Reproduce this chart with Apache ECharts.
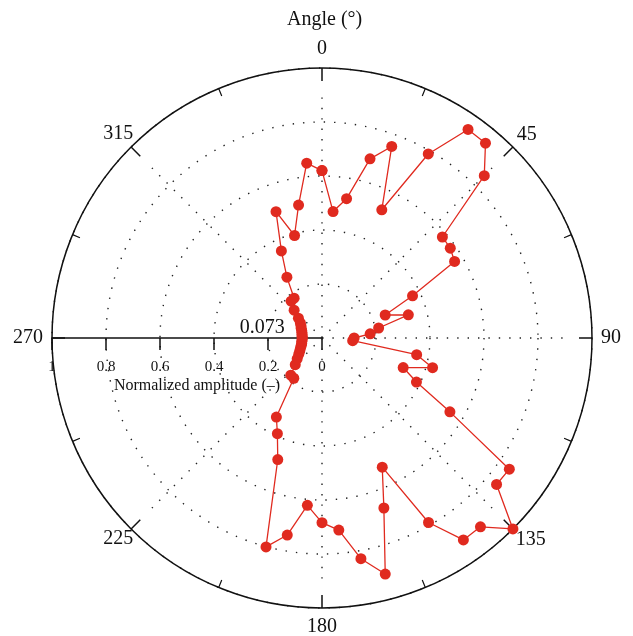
<!DOCTYPE html>
<html>
<head>
<meta charset="utf-8">
<script src="https://cdn.jsdelivr.net/npm/echarts@6/dist/echarts.min.js"></script>
<style>
  html, body { margin: 0; padding: 0; background: #fff; }
  #chart { width: 633px; height: 636px; }
</style>
</head>
<body>
<div id="chart"></div>
<script>
// angle of each measurement, degrees clockwise from the top
const angles = [
  0, 5, 10, 15, 20, 25, 30, 35, 40, 45, 50, 55,
  60, 65, 70, 75, 80, 85, 90, 95, 100, 105, 110, 115,
  120, 125, 130, 135, 140, 145, 150, 155, 160, 165, 170, 175,
  180, 185, 190, 195, 200, 205, 210, 215, 220, 225, 230, 235,
  240, 245, 250, 255, 260, 265, 270, 275, 280, 285, 290, 295,
  300, 305, 310, 315, 320, 325, 330, 335, 340, 345, 350, 355
];
// normalized amplitude
const amplitudes = [
  0.62, 0.47, 0.524, 0.687, 0.755, 0.524, 0.787, 0.943, 0.942, 0.85, 0.582, 0.58,
  0.567, 0.37, 0.249, 0.331, 0.213, 0.179, 0.119, 0.114, 0.356, 0.424, 0.32, 0.386,
  0.547, 0.847, 0.844, 1.0, 0.913, 0.913, 0.789, 0.528, 0.67, 0.905, 0.83, 0.714,
  0.684, 0.622, 0.741, 0.801, 0.479, 0.391, 0.338, 0.182, 0.18, 0.14, 0.12, 0.105,
  0.095, 0.088, 0.082, 0.078, 0.076, 0.074, 0.073, 0.074, 0.075, 0.077, 0.08, 0.085,
  0.09, 0.098, 0.114, 0.146, 0.178, 0.18, 0.26, 0.356, 0.498, 0.393, 0.5, 0.65
];
const spokeAngles = [0, 45, 90, 135, 180, 225, 315];

const RED = '#e02a1f';
const FONT = 'Liberation Serif';

// the angle axis starts at the left (-90) so that the radius axis is drawn along 270
const toAxis = a => (a >= 270 ? a - 360 : a);

const points = angles.map((a, i) => [amplitudes[i], toAxis(a)]);
const minIdx = amplitudes.indexOf(Math.min(...amplitudes));
points[minIdx] = {
  value: points[minIdx],
  label: {
    show: true,
    formatter: amplitudes[minIdx].toFixed(3),
    position: 'left',
    distance: 12,
    offset: [0, -10],
    color: '#111',
    fontSize: 20,
    fontFamily: FONT
  }
};
points.push(points[0]); // close the loop

const spokes = spokeAngles.map(a => ({
  type: 'line',
  coordinateSystem: 'polar',
  silent: true,
  symbol: 'none',
  z: 1,
  lineStyle: { color: '#222', width: 1.4, type: [1.4, 9] },
  data: [[0, toAxis(a)], [0.9, toAxis(a)]]
}));

// which rich style each angle label uses (nudges it off the rim)
const labelStyle = { 0: 'c', 90: 'c', 180: 'c', 270: 'c', 45: 'ne', 135: 'se', 225: 'sw', 315: 'nw' };
const txt = { fontSize: 20, fontFamily: FONT, color: '#111' };

const chart = echarts.init(document.getElementById('chart'));
chart.setOption({
  animation: false,
  title: {
    text: 'Angle (°)',
    left: 287,
    top: 10,
    padding: 0,
    textStyle: { fontFamily: FONT, fontSize: 20, fontWeight: 'normal', color: '#111' }
  },
  graphic: [{
    type: 'text',
    x: 197,
    y: 386,
    silent: true,
    style: {
      text: 'Normalized amplitude (–)',
      fill: '#111',
      font: '16px "Liberation Serif"',
      textAlign: 'center',
      textVerticalAlign: 'middle'
    }
  }],
  polar: { center: [322, 338], radius: 270 },
  angleAxis: {
    type: 'value',
    min: -90,
    max: 270,
    interval: 45,
    startAngle: 180,
    clockwise: true,
    axisLine: { lineStyle: { color: '#111', width: 1.5 } },
    axisTick: { inside: true, length: 13, lineStyle: { color: '#111', width: 1.5 } },
    minorTick: { show: true, splitNumber: 2, length: 8, lineStyle: { color: '#111', width: 1.2 } },
    splitLine: { show: false },
    axisLabel: {
      margin: -3,
      color: '#111',
      fontSize: 20,
      fontFamily: FONT,
      formatter: v => {
        const d = (v + 360) % 360;
        return '{' + labelStyle[d] + '|' + d + '}';
      },
      rich: {
        c: Object.assign({ padding: 12 }, txt),
        ne: Object.assign({ padding: [0, 0, 4, 6] }, txt),
        se: Object.assign({ padding: [3, 0, 0, 5] }, txt),
        sw: Object.assign({ padding: [2, 0, 0, 0] }, txt),
        nw: Object.assign({ padding: [0, 0, 5, 0] }, txt)
      }
    }
  },
  radiusAxis: {
    type: 'value',
    min: 0,
    max: 1,
    interval: 0.2,
    axisLine: { lineStyle: { color: '#111', width: 1.5 } },
    axisTick: { length: 12, lineStyle: { color: '#111', width: 1.5 } },
    axisLabel: { margin: 22, color: '#111', fontSize: 15, fontFamily: FONT },
    splitLine: { lineStyle: { color: '#222', width: 1.4, type: [1.4, 9] } }
  },
  series: spokes.concat([{
    type: 'line',
    coordinateSystem: 'polar',
    symbol: 'circle',
    symbolSize: 11,
    z: 3,
    itemStyle: { color: RED },
    lineStyle: { color: RED, width: 1.3 },
    data: points
  }])
});
</script>
</body>
</html>
